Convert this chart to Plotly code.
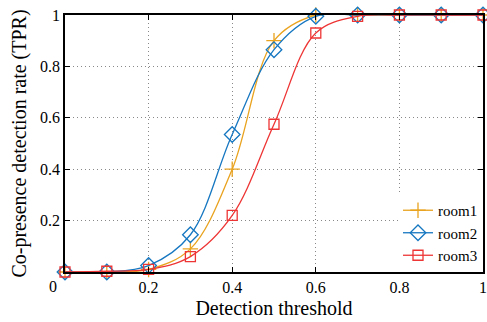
import plotly.graph_objects as go

thresholds = [0.0, 0.1, 0.2, 0.3, 0.4, 0.5, 0.6, 0.7, 0.8, 0.9, 1.0]
room1 = [0.0, 0.0, 0.01, 0.09, 0.40, 0.90, 1.0, 1.0, 1.0, 1.0, 1.0]
room2 = [0.0, 0.0, 0.025, 0.145, 0.535, 0.865, 0.995, 1.0, 1.0, 1.0, 1.0]
room3 = [0.0, 0.003, 0.01, 0.06, 0.22, 0.575, 0.93, 0.995, 1.0, 1.0, 1.0]
tick_vals = [0.2, 0.4, 0.6, 0.8, 1.0]
tick_text = ["0.2", "0.4", "0.6", "0.8", "1"]

FONT = "Liberation Serif, Times New Roman, serif"

fig = go.Figure()
series = [
    ("room1", room1, "#E9A31F", "cross-thin-open", 11),
    ("room2", room2, "#1677C1", "diamond-open", 12),
    ("room3", room3, "#EE3535", "square-open", 10),
]
for name, ys, color, sym, size in series:
    fig.add_trace(go.Scatter(
        x=thresholds, y=ys, name=name, mode="lines+markers",
        line=dict(color=color, width=1.3, shape="spline", smoothing=1.0),
        marker=dict(symbol=sym, size=size, color=color, line=dict(width=1.3, color=color)),
        cliponaxis=False,
    ))

axis_common = dict(
    range=[0, 1], tickvals=tick_vals, ticktext=tick_text, automargin=False,
    showline=True, linecolor="black", linewidth=1.5, mirror="ticks",
    ticks="inside", ticklen=5, tickcolor="black", tickwidth=1,
    showgrid=True, gridcolor="#888888", griddash="1px,3px", gridwidth=1,
    zeroline=False, tickfont=dict(family=FONT, size=16, color="black"),
    ticklabeloverflow="allow",
)

fig.update_layout(
    width=487, height=322,
    margin=dict(l=65, r=4, t=15, b=50),
    paper_bgcolor="white", plot_bgcolor="white",
    font=dict(family=FONT, color="black"),
    xaxis=dict(**axis_common, title=dict(text="Detection threshold", font=dict(family=FONT, size=20), standoff=6)),
    yaxis=dict(**axis_common, title=dict(text="Co-presence detection rate (TPR)", font=dict(family=FONT, size=20), standoff=8)),
    legend=dict(x=1, y=0.0, xanchor="right", yanchor="bottom", bgcolor="white",
                borderwidth=0, font=dict(family=FONT, size=15), tracegroupgap=0),
    showlegend=True,
)
fig.add_annotation(text="0", x=-0.029, y=-0.058, xref="paper", yref="paper",
                   showarrow=False, xanchor="center", yanchor="middle",
                   font=dict(family=FONT, size=16, color="black"))

fig.write_html("out.html", config={"displayModeBar": False},
               post_script="document.body.style.margin='0';")
